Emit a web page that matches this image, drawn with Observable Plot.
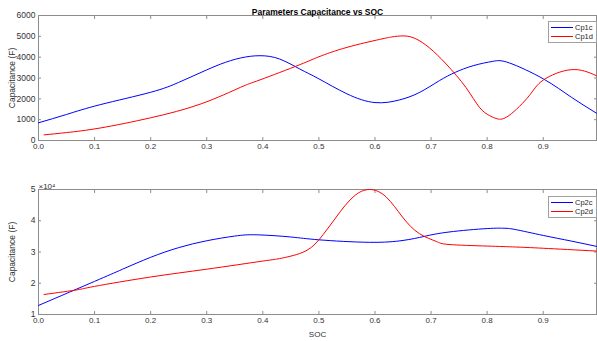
<!DOCTYPE html>
<html><head><meta charset="utf-8">
<script src="https://cdn.jsdelivr.net/npm/d3@7"></script>
<script src="https://cdn.jsdelivr.net/npm/@observablehq/plot@0.6"></script>
<style>
html,body{margin:0;padding:0;background:#fff;}
#wrap{position:relative;width:597px;height:341px;font-family:"Liberation Sans",Arial,sans-serif;}
.p{position:absolute;left:0;}
.leg{position:absolute;background:#fff;border:1px solid #a0a0a0;font-size:7.5px;color:#262626;padding:1px 2px;box-sizing:border-box;}
.row{display:flex;align-items:center;height:9px;}
.sw{width:22px;height:0;border-top:1px solid;margin-right:2px;}
</style></head><body>
<div id="wrap"></div>
<script>
// Top panel: Cp1c / Cp1d (F)
const soc1c = [0,0.05,0.11,0.2,0.25,0.29,0.325,0.36,0.395,0.43,0.466,0.5,0.55,0.6,0.644,0.68,0.715,0.743,0.775,0.81,0.84,0.9,0.95,0.995];
const cp1c  = [850,1250,1720,2315,2790,3270,3670,3960,4070,3910,3430,2960,2240,1820,1950,2315,2875,3270,3590,3800,3720,2960,2080,1310];
const soc1d = [0.01,0.05,0.11,0.2,0.29,0.36,0.395,0.466,0.5,0.55,0.608,0.63,0.652,0.673,0.697,0.727,0.762,0.786,0.804,0.818,0.839,0.875,0.9,0.95,0.995];
const cp1d  = [270,380,600,1090,1760,2550,2910,3640,4020,4470,4850,4970,5020,4880,4450,3670,2550,1600,1200,1040,1200,2150,2900,3400,3110];
// Bottom panel: Cp2c / Cp2d (F)
const soc2c = [0,0.1,0.15,0.2,0.25,0.3,0.35,0.39,0.45,0.5,0.59,0.65,0.688,0.732,0.8,0.83,0.85,0.9,0.95,0.995];
const cp2c  = [12900,20600,24500,28300,31400,33600,35100,35500,34800,33900,33100,33700,35000,36400,37500,37600,37200,35300,33500,31800];
const soc2d = [0.01,0.069,0.1,0.2,0.3,0.4,0.43,0.47,0.5,0.531,0.561,0.59,0.62,0.649,0.679,0.709,0.732,0.8,0.85,0.9,0.995];
const cp2d  = [16400,17900,19000,22000,24500,27100,27900,29800,33900,41200,47600,50000,47600,41200,35900,33400,32400,31900,31600,31200,30300];
const xTicks = [0,0.1,0.2,0.3,0.4,0.5,0.6,0.7,0.8,0.9];
const y1Ticks = [0,1000,2000,3000,4000,5000,6000];
const y2Ticks = [10000,20000,30000,40000,50000];
const names1 = ["Cp1c","Cp1d"], names2 = ["Cp2c","Cp2d"];
const colors = ["#0000ff","#ff0000"];

const toRows = (xs, ys) => xs.map((x,i)=>({x, y: ys[i]}));
const axisCol = "#8c8c8c", textCol = "#333";

function panel({height, mt, mb, yDomain, yTicks, yFmt, series, title, xlabel, extra}) {
  return Plot.plot({
    width: 597, height, marginLeft: 38, marginRight: 1, marginTop: mt, marginBottom: mb,
    style: {fontFamily: '"Liberation Sans", Arial, sans-serif', fontSize: "8px", color: textCol, background: "#fff"},
    x: {domain: [0, 0.995]},
    y: {domain: yDomain},
    marks: [
      Plot.frame({stroke: axisCol}),
      Plot.axisX({ticks: xTicks, tickSize: 3, dy: -3, tickPadding: 3, stroke: axisCol, fill: textCol,
        label: xlabel, labelAnchor: "center", labelOffset: 22, labelArrow: "none"}),
      Plot.axisX({anchor: "top", ticks: xTicks, tickSize: 3, dy: 3, tickFormat: () => "", stroke: axisCol, label: null}),
      Plot.axisY({ticks: yTicks, tickSize: 3, dx: 3, tickPadding: 3, tickFormat: yFmt, stroke: axisCol, fill: textCol,
        label: "Capacitance (F)", labelAnchor: "center", labelOffset: 30, labelArrow: "none", fontSize: 8.5}),
      Plot.axisY({anchor: "right", ticks: yTicks, tickSize: 3, dx: -3, tickFormat: () => "", stroke: axisCol, label: null}),
      ...series.map((s, i) => Plot.line(s, {x: "x", y: "y", stroke: colors[i], strokeWidth: 1, curve: "natural"})),
      ...(title ? [Plot.text([title], {frameAnchor: "top", dy: -7, fontWeight: "bold", fontSize: 8.5, fill: "#000"})] : []),
      ...(extra || [])
    ]
  });
}

const wrap = document.getElementById("wrap");
const top1 = panel({height: 163, mt: 15, mb: 23, yDomain: [0, 6000], yTicks: y1Ticks, yFmt: d => String(d),
  series: [toRows(soc1c, cp1c), toRows(soc1d, cp1d)], title: "Parameters Capacitance vs SOC", xlabel: null});
top1.classList.add("p"); top1.style.top = "0px";
wrap.appendChild(top1);

const bot = panel({height: 178, mt: 26, mb: 27, yDomain: [10000, 50000], yTicks: y2Ticks, yFmt: d => String(d/10000),
  series: [toRows(soc2c, cp2c), toRows(soc2d, cp2d)], title: null, xlabel: "SOC",
  extra: [Plot.text(["×10⁴"], {frameAnchor: "top-left", textAnchor: "start", dy: -6, dx: 0, fontSize: 8, fill: textCol})]});
bot.classList.add("p"); bot.style.top = "163px";
wrap.appendChild(bot);

function legend(names, left, top) {
  const d = document.createElement("div");
  d.className = "leg";
  d.style.left = left + "px"; d.style.top = top + "px"; d.style.width = "49px";
  names.forEach((n, i) => {
    const r = document.createElement("div"); r.className = "row";
    const s = document.createElement("span"); s.className = "sw"; s.style.borderTopColor = colors[i];
    const t = document.createElement("span"); t.textContent = n;
    r.appendChild(s); r.appendChild(t); d.appendChild(r);
  });
  wrap.appendChild(d);
}
legend(names1, 548, 21);
legend(names2, 548, 196);
</script>
</body></html>
